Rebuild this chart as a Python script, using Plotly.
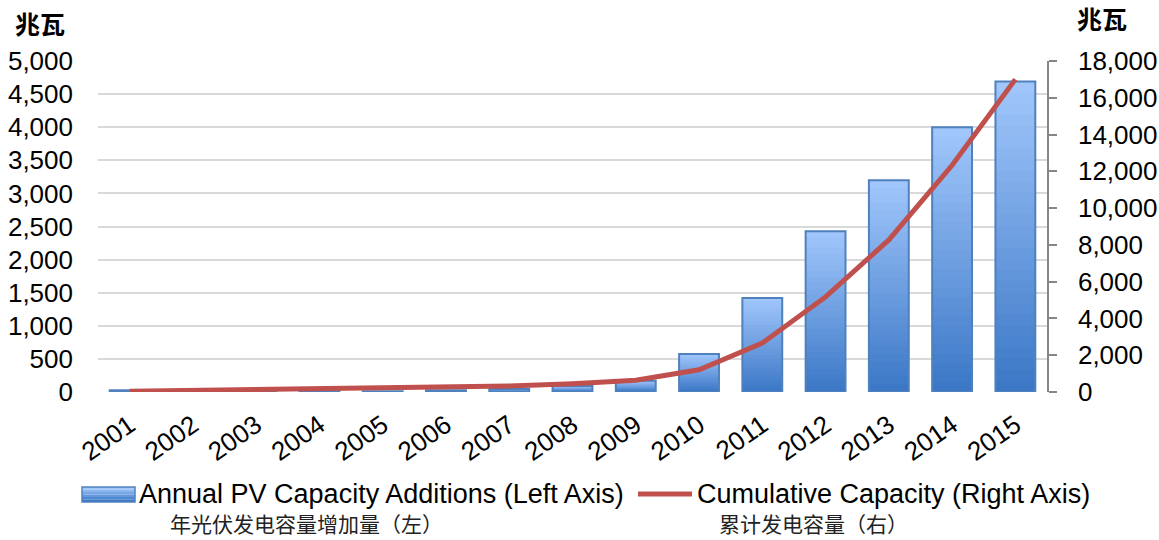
import plotly.graph_objects as go

# ---- data -------------------------------------------------------------
years = [str(y) for y in range(2001, 2016)]
annual_mw = [25, 10, 10, 10, 12, 25, 45, 90, 170, 575, 1420, 2430, 3200, 4000, 4690]
cumulative_mw = [40, 80, 120, 160, 200, 240, 330, 450, 640, 1210, 2660, 5170, 8270, 12330, 17000]

left_ticks = list(range(0, 5001, 500))
right_ticks = list(range(0, 18001, 2000))

bar_name = "Annual PV Capacity Additions (Left Axis)"
line_name = "Cumulative Capacity (Right Axis)"
bar_name_cn = "年光伏发电容量增加量（左）"
line_name_cn = "累计发电容量（右）"
unit = "兆瓦"

# ---- styling ----------------------------------------------------------
TOP_RGB = (160, 198, 251)
BOT_RGB = (60, 120, 198)
BORDER = "#4F81BD"
LINE_RED = "#C0504D"
GRID = "#D9D9D9"
FONT = "Liberation Sans, Arial, sans-serif"
CJK = "Noto Sans CJK SC"
BAR_W = 0.63
N_STEPS = 28

# plot area in pixels (for placing the hand-made legend)
L, R, T, B = 98, 1047, 61, 392
W, H = 1159, 540


def px(x):
    return (x - L) / (R - L)


def py(y):
    return (B - y) / (B - T)


def mix(t):
    r = [round(TOP_RGB[i] + (BOT_RGB[i] - TOP_RGB[i]) * t) for i in range(3)]
    return f"rgb({r[0]},{r[1]},{r[2]})"


fig = go.Figure()

# vertical gradient in each bar: full-height light bar, then progressively
# shorter and darker bars drawn over it
for k in range(N_STEPS):
    frac = (N_STEPS - k) / N_STEPS
    fig.add_trace(go.Bar(
        x=years,
        y=[v * frac for v in annual_mw],
        width=BAR_W,
        marker=dict(color=mix(k / (N_STEPS - 1)), line=dict(width=0)),
        showlegend=False,
        hoverinfo="skip",
    ))

# outline of each bar
fig.add_trace(go.Bar(
    x=years,
    y=annual_mw,
    width=BAR_W,
    name=bar_name,
    marker=dict(color="rgba(0,0,0,0)", line=dict(color=BORDER, width=2)),
    showlegend=False,
))

fig.add_trace(go.Scatter(
    x=years,
    y=cumulative_mw,
    yaxis="y2",
    mode="lines",
    name=line_name,
    line=dict(color=LINE_RED, width=5),
    showlegend=False,
))

shapes = []
# legend swatch for the bars (gradient strips + border)
sw_x0, sw_x1, sw_y0, sw_y1 = 82, 135, 487, 502
strips = 6
for i in range(strips):
    ya = sw_y0 + (sw_y1 - sw_y0) * i / strips
    yb = sw_y0 + (sw_y1 - sw_y0) * (i + 1) / strips
    shapes.append(dict(type="rect", xref="paper", yref="paper",
                       x0=px(sw_x0), x1=px(sw_x1), y0=py(yb), y1=py(ya),
                       fillcolor=mix(i / (strips - 1)), line=dict(width=0), layer="above"))
shapes.append(dict(type="rect", xref="paper", yref="paper",
                   x0=px(sw_x0), x1=px(sw_x1), y0=py(sw_y1), y1=py(sw_y0),
                   fillcolor="rgba(0,0,0,0)", line=dict(color=BORDER, width=1.5), layer="above"))
# legend swatch for the line
shapes.append(dict(type="line", xref="paper", yref="paper",
                   x0=px(638), x1=px(692), y0=py(494), y1=py(494),
                   line=dict(color=LINE_RED, width=5), layer="above"))

annotations = [
    dict(text=f"<b>{unit}</b>", xref="paper", yref="paper", x=px(40), y=py(23),
         xanchor="center", yanchor="middle", showarrow=False,
         font=dict(family=CJK, size=25, color="#000")),
    dict(text=f"<b>{unit}</b>", xref="paper", yref="paper", x=px(1102), y=py(18),
         xanchor="center", yanchor="middle", showarrow=False,
         font=dict(family=CJK, size=25, color="#000")),
    dict(text=bar_name, xref="paper", yref="paper", x=px(137), y=py(494),
         xanchor="left", yanchor="middle", showarrow=False,
         font=dict(family=FONT, size=27, color="#000")),
    dict(text=line_name, xref="paper", yref="paper", x=px(695), y=py(494),
         xanchor="left", yanchor="middle", showarrow=False,
         font=dict(family=FONT, size=27, color="#000")),
    dict(text=bar_name_cn, xref="paper", yref="paper", x=px(306), y=py(523),
         xanchor="center", yanchor="middle", showarrow=False,
         font=dict(family=CJK, size=21, color="#222")),
    dict(text=line_name_cn, xref="paper", yref="paper", x=px(813), y=py(523),
         xanchor="center", yanchor="middle", showarrow=False,
         font=dict(family=CJK, size=21, color="#222")),
]

fig.update_layout(
    width=W, height=H,
    margin=dict(l=L, r=W - R, t=T, b=H - B, pad=0, autoexpand=False),
    paper_bgcolor="white",
    plot_bgcolor="white",
    barmode="overlay",
    showlegend=False,
    font=dict(family=FONT, size=26, color="#000"),
    xaxis=dict(
        type="category",
        categoryorder="array",
        categoryarray=years,
        tickangle=-35,
        showgrid=False,
        showline=False,
        ticks="",
        automargin=False,
        ticklabelstandoff=12,
        tickfont=dict(family=FONT, size=26, color="#000"),
        range=[-0.5, len(years) - 0.5],
    ),
    yaxis=dict(
        range=[0, 5000],
        tickvals=left_ticks,
        tickformat=",",
        showgrid=True,
        gridcolor=GRID,
        gridwidth=1.5,
        zeroline=False,
        showline=False,
        ticks="",
        automargin=False,
        ticklabelstandoff=24,
        tickfont=dict(family=FONT, size=26, color="#000"),
    ),
    yaxis2=dict(
        range=[0, 18000],
        tickvals=right_ticks,
        tickformat=",",
        overlaying="y",
        side="right",
        showgrid=False,
        zeroline=False,
        showline=True,
        linecolor="#868686",
        linewidth=1.5,
        ticks="outside",
        ticklen=8,
        tickcolor="#868686",
        tickwidth=1.5,
        automargin=False,
        ticklabelstandoff=16,
        tickfont=dict(family=FONT, size=26, color="#000"),
    ),
    shapes=shapes,
    annotations=annotations,
)

fig.write_html("out.html")
